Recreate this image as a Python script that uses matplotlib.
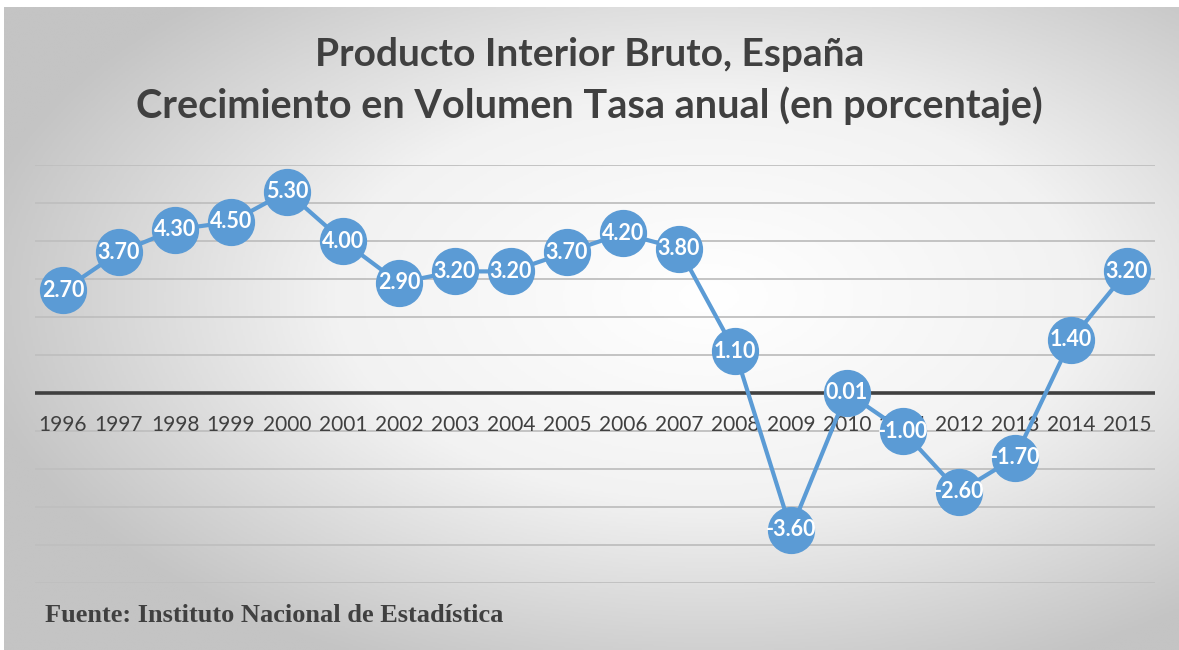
import numpy as np
import matplotlib.pyplot as plt
from matplotlib.colors import LinearSegmentedColormap

years = [1996, 1997, 1998, 1999, 2000, 2001, 2002, 2003, 2004, 2005,
         2006, 2007, 2008, 2009, 2010, 2011, 2012, 2013, 2014, 2015]
pib = [2.70, 3.70, 4.30, 4.50, 5.30, 4.00, 2.90, 3.20, 3.20, 3.70,
       4.20, 3.80, 1.10, -3.60, 0.01, -1.00, -2.60, -1.70, 1.40, 3.20]

W, H = 1179, 650
fig = plt.figure(figsize=(W / 100, H / 100), dpi=100)
fig.patch.set_facecolor('white')

# radial gradient background panel
bg = fig.add_axes([4 / W, 0, 1 - 4 / W, 1 - 7 / H])
bg.set_zorder(-2)
yy, xx = np.mgrid[0:1:300j, 0:1:600j]
r = np.sqrt(((xx - 0.6) / 0.75) ** 2 + ((yy - 0.45) / 0.75) ** 2)
r = np.clip(r / 0.85, 0, 1)
cmap = LinearSegmentedColormap.from_list('g', ['#ffffff', '#f2f2f2', '#c4c4c4'])
bg.imshow(r, cmap=cmap, aspect='auto', extent=[0, 1, 0, 1], vmin=0, vmax=1)
bg.axis('off')

ax = fig.add_axes([35 / W, 1 - 583 / H, 1120 / W, 418 / H])
ax.patch.set_alpha(0)
x = np.arange(len(years))
ax.set_xlim(-0.5, len(years) - 0.5)
ax.set_ylim(-5, 6)
ax.set_yticks(np.arange(-5, 7, 1))
ax.grid(axis='y', color='#bfbfbf', linewidth=1.3)
ax.set_axisbelow(True)
ax.tick_params(left=False, labelleft=False, bottom=False, labelbottom=False)
for s in ax.spines.values():
    s.set_visible(False)
ax.axhline(0, color='#404040', linewidth=2.6, zorder=1)

ax.plot(x, pib, color='#5b9bd5', linewidth=3, marker='o', markersize=33,
        markerfacecolor='#5b9bd5', markeredgecolor='#5b9bd5', zorder=3)

for xi, yr in zip(x, years):
    ax.text(xi, -0.85, str(yr), ha='center', va='center', fontsize=15,
            color='#404040', family='Lato', zorder=2)

for xi, v in zip(x, pib):
    ax.text(xi, v, f'{v:.2f}', ha='center', va='center', fontsize=15.5,
            color='white', fontweight='bold', family='Lato', zorder=4)

fig.text(0.5, 1 - 55 / H, 'Producto Interior Bruto, España', ha='center',
         va='center', fontsize=28, fontweight='bold', color='#404040', family='Lato')
fig.text(0.5, 1 - 106 / H, 'Crecimiento en Volumen Tasa anual (en porcentaje)',
         ha='center', va='center', fontsize=28.5, fontweight='bold', color='#404040',
         family='Lato')
fig.text(45 / W, 1 - 615 / H, 'Fuente: Instituto Nacional de Estadística',
         ha='left', va='center', fontsize=19, fontweight='bold', color='#404040',
         family='Liberation Serif')

fig.savefig('out.png', dpi=100)
